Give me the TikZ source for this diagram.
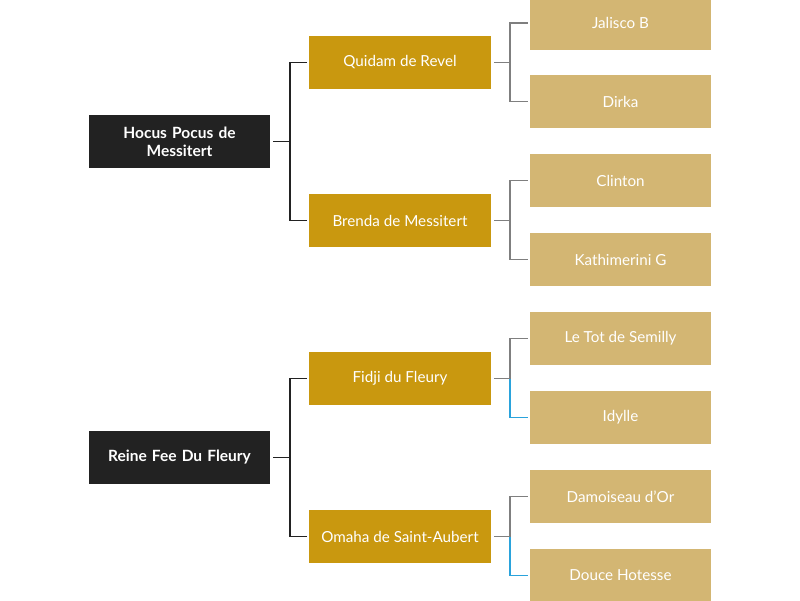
\documentclass[tikz,border=0pt]{standalone}
\usepackage{fontspec}
\setmainfont{Lato}
\definecolor{rootcol}{HTML}{222222}
\definecolor{sirecol}{HTML}{C9980F}
\definecolor{grandcol}{HTML}{D3B673}
\definecolor{linegray}{HTML}{7F7F7F}
\definecolor{lineblue}{HTML}{2AA3DC}
\tikzset{
  rootbox/.style={fill=rootcol,text=white,font=\fontsize{15.5}{18}\selectfont\bfseries,minimum width=181pt,minimum height=53pt,inner sep=0pt,align=center,text width=175pt},
  sirebox/.style={fill=sirecol,text=white,font=\fontsize{15.2}{18}\selectfont,minimum width=182pt,minimum height=53pt,inner sep=0pt},
  grandbox/.style={fill=grandcol,text=white,font=\fontsize{15.2}{18}\selectfont,minimum width=181pt,minimum height=53pt,inner sep=0pt},
  darkline/.style={draw=rootcol,line width=1.8pt},
  grayline/.style={draw=linegray,line width=1.8pt},
  blueline/.style={draw=lineblue,line width=1.8pt}
}
\begin{document}
\begin{tikzpicture}[x=1pt,y=-1pt]
                \useasboundingbox (0,0) rectangle (800,600);
                \node[rootbox] (R1) at (179.5,141.5) {Hocus Pocus de\\Messitert};
                \node[rootbox] (R2) at (179.5,457.5) {Reine Fee Du Fleury};
                \node[sirebox] (P1) at (400,62.5) {Quidam de Revel};
                \node[sirebox] (P2) at (400,220.5) {Brenda de Messitert};
                \node[sirebox] (P3) at (400,378.5) {Fidji du Fleury};
                \node[sirebox] (P4) at (400,536.5) {Omaha de Saint-Aubert};
                \node[grandbox] (G1) at (620.5,23) {Jalisco B};
                \node[grandbox] (G2) at (620.5,101.5) {Dirka};
                \node[grandbox] (G3) at (620.5,180.5) {Clinton};
                \node[grandbox] (G4) at (620.5,259.5) {Kathimerini G};
                \node[grandbox] (G5) at (620.5,338.5) {Le Tot de Semilly};
                \node[grandbox] (G6) at (620.5,417.5) {Idylle};
                \node[grandbox] (G7) at (620.5,496.5) {Damoiseau d’Or};
                \node[grandbox] (G8) at (620.5,575.5) {Douce Hotesse};
                \draw[darkline] ([xshift=3pt]R1.east) -- ++(17,0) coordinate (e1) |- ([xshift=-2pt]P1.west);
                \draw[darkline] (e1) |- ([xshift=-2pt]P2.west);
                \draw[darkline] ([xshift=3pt]R2.east) -- ++(17,0) coordinate (e2) |- ([xshift=-2pt]P3.west);
                \draw[darkline] (e2) |- ([xshift=-2pt]P4.west);
                \draw[grayline] ([xshift=3pt]P1.east) -- ++(16,0) coordinate (f1) |- ([xshift=-2pt]G1.west);
                \draw[grayline] (f1) |- ([xshift=-2pt]G2.west);
                \draw[grayline] ([xshift=3pt]P2.east) -- ++(16,0) coordinate (f2) |- ([xshift=-2pt]G3.west);
                \draw[grayline] (f2) |- ([xshift=-2pt]G4.west);
                \draw[grayline] ([xshift=3pt]P3.east) -- ++(16,0) coordinate (f3) |- ([xshift=-2pt]G5.west);
                \draw[blueline] (f3) |- ([xshift=-2pt]G6.west);
                \draw[grayline] ([xshift=3pt]P4.east) -- ++(16,0) coordinate (f4) |- ([xshift=-2pt]G7.west);
                \draw[blueline] (f4) |- ([xshift=-2pt]G8.west);
            \end{tikzpicture}
\end{document}
